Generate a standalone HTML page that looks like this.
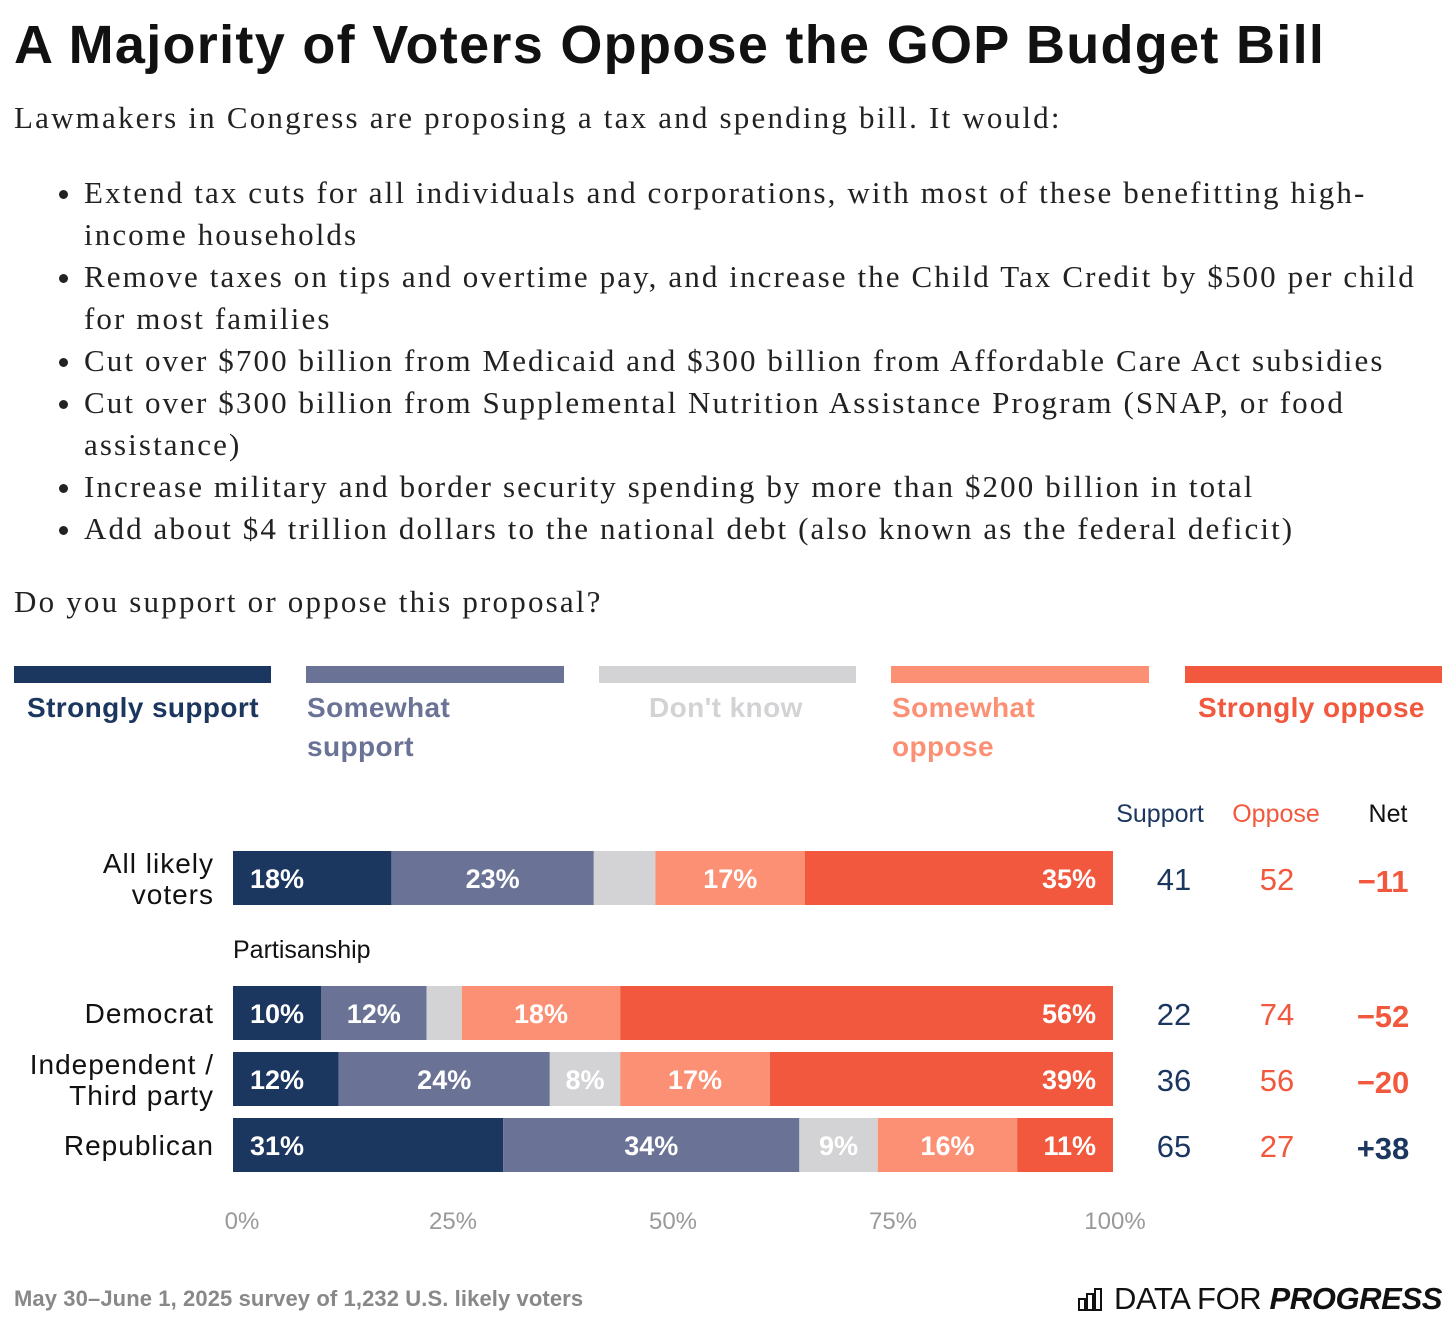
<!DOCTYPE html>
<html><head><meta charset="utf-8">
<style>
body{margin:0;width:1456px;height:1328px;background:#fff;overflow:hidden;position:relative;font-family:"Liberation Sans",sans-serif;}
.abs{position:absolute;}
h1{position:absolute;left:14px;top:14px;margin:0;font-size:54px;font-weight:bold;color:#111;letter-spacing:1.3px;white-space:nowrap;}
.serif{font-family:"Liberation Serif",serif;font-size:31px;color:#222;letter-spacing:2.2px;white-space:nowrap;}
ul{position:absolute;left:44px;top:172px;margin:0;padding-left:40px;width:1400px;font-family:"Liberation Serif",serif;font-size:31px;color:#222;line-height:42px;letter-spacing:2.1px;white-space:nowrap;}
li{margin:0;}
.leg{position:absolute;top:666px;height:17px;}
.legt{position:absolute;top:688px;font-size:28px;font-weight:bold;line-height:39px;letter-spacing:0.4px;}
</style></head><body>
<h1>A Majority of Voters Oppose the GOP Budget Bill</h1>
<div class="abs serif" style="left:14px;top:100px">Lawmakers in Congress are proposing a tax and spending bill. It would:</div>
<ul>
<li>Extend tax cuts for all individuals and corporations, with most of these benefitting high-<br>income households</li>
<li>Remove taxes on tips and overtime pay, and increase the Child Tax Credit by $500 per child<br>for most families</li>
<li>Cut over $700 billion from Medicaid and $300 billion from Affordable Care Act subsidies</li>
<li>Cut over $300 billion from Supplemental Nutrition Assistance Program (SNAP, or food<br>assistance)</li>
<li>Increase military and border security spending by more than $200 billion in total</li>
<li>Add about $4 trillion dollars to the national debt (also known as the federal deficit)</li>
</ul>
<div class="abs serif" style="left:14px;top:584px">Do you support or oppose this proposal?</div>

<div class="leg" style="left:14px;width:257px;background:#1b365f"></div>
<div class="legt" style="left:27px;color:#1b365f">Strongly support</div>
<div class="leg" style="left:306px;width:258px;background:#6a7396"></div>
<div class="legt" style="left:307px;color:#6a7396">Somewhat<br>support</div>
<div class="leg" style="left:599px;width:257px;background:#d3d3d5"></div>
<div class="legt" style="left:649px;color:#d3d3d5">Don't know</div>
<div class="leg" style="left:891px;width:258px;background:#fc9075"></div>
<div class="legt" style="left:892px;color:#fc9075">Somewhat<br>oppose</div>
<div class="leg" style="left:1185px;width:257px;background:#f1583d"></div>
<div class="legt" style="left:1198px;color:#f1583d">Strongly oppose</div>

<svg class="abs" style="left:0;top:780px" width="1456" height="480" id="chart"></svg>

<div class="abs" style="left:14px;top:1286px;font-size:22px;font-weight:bold;color:#888;letter-spacing:0.1px;white-space:nowrap">May 30–June 1, 2025 survey of 1,232 U.S. likely voters</div>
<div class="abs" style="right:14px;top:1281px;font-size:31px;color:#111;white-space:nowrap;letter-spacing:-0.4px">
<svg width="28" height="24" style="vertical-align:-2px"><g fill="none" stroke="#111" stroke-width="2"><rect x="1" y="12" width="6" height="11"/><rect x="9" y="7" width="6" height="16"/><rect x="17" y="2" width="6" height="21"/></g></svg>
DATA FOR <b><i>PROGRESS</i></b></div>

<script>
const categories=["All likely voters","Democrat","Independent / Third party","Republican"];
const stronglySupport=[18,10,12,31];
const somewhatSupport=[23,12,24,34];
const dontKnow=[7,4,8,9];
const somewhatOppose=[17,18,17,16];
const stronglyOppose=[35,56,39,11];
const supportTotals=["41","22","36","65"];
const opposeTotals=["52","74","56","27"];
const netValues=["−11","−52","−20","+38"];
const tickLabels=["0%","25%","50%","75%","100%"];
const tickValues=[0,25,50,75,100];

const svg=document.getElementById('chart');
const NS="http://www.w3.org/2000/svg";
const x0=233,x1=1113;
const xs=v=>x0+(x1-x0)*v/100;
const rowTops=[71,206,272,338];const bh=54;
const colors=["#1b365f","#6a7396","#d3d3d5","#fc9075","#f1583d"];
const series=[stronglySupport,somewhatSupport,dontKnow,somewhatOppose,stronglyOppose];
const names=["strongly-support","somewhat-support","dont-know","somewhat-oppose","strongly-oppose"];
function mk(tag,attrs,text){const e=document.createElementNS(NS,tag);for(const k in attrs)e.setAttribute(k,attrs[k]);if(text!==undefined)e.textContent=text;svg.appendChild(e);return e;}

let t;
t=mk('text',{x:1160,y:42,'text-anchor':'middle','font-size':25,fill:'#1b365f'},'Support');


t=mk('text',{x:1276,y:42,'text-anchor':'middle','font-size':25,fill:'#f1583d'},'Oppose');


t=mk('text',{x:1388,y:42,'text-anchor':'middle','font-size':25,fill:'#111'},'Net');


t=mk('text',{x:233,y:178,'font-size':25,fill:'#111'},'Partisanship');



categories.forEach((c,i)=>{
  const total=series.reduce((s,a)=>s+a[i],0);
  let acc=0;const y=rowTops[i];const cy=y+bh/2+10;
  series.forEach((arr,j)=>{
    const v=arr[i]*100/total;
    const xa=xs(acc),xb=xs(acc+v);
    const r=mk('rect',{x:xa,y:y,width:xb-xa,height:bh,fill:colors[j]});
    
    
    if(arr[i]>=8){
      let tx,anc;
      if(j===0){tx=xa+17;anc='start';}else if(j===4){tx=xb-17;anc='end';}else{tx=(xa+xb)/2;anc='middle';}
      const l=mk('text',{x:tx,y:cy,'text-anchor':anc,'font-size':27,'font-weight':'bold',fill:'#fff'},arr[i]+'%');
      
      
    }
    acc+=v;
  });
  const parts=c==="All likely voters"?["All likely","voters"]:c==="Independent / Third party"?["Independent /","Third party"]:[c];
  parts.forEach((p,k)=>{
    const yy=parts.length===1?cy:y+bh/2+(k===0?-5:26);
    const l=mk('text',{x:214,y:yy,'text-anchor':'end','font-size':28,'letter-spacing':1,fill:'#111'},p);
    
    
  });
  const vy=cy+2;
  let e=mk('text',{x:1174,y:vy,'text-anchor':'middle','font-size':31,fill:'#1b365f'},supportTotals[i]);
  
  
  e=mk('text',{x:1277,y:vy,'text-anchor':'middle','font-size':31,fill:'#f1583d'},opposeTotals[i]);
  
  
  e=mk('text',{x:1383,y:vy+2,'text-anchor':'middle','font-size':31,'font-weight':'bold',fill:netValues[i][0]==='+'?'#1b365f':'#f1583d'},netValues[i]);
  
  
});
tickValues.forEach((v,i)=>{
  const e=mk('text',{x:xs(v)+(i===0?9:i===4?2:0),y:449,'text-anchor':'middle','font-size':24,fill:'#999'},tickLabels[i]);
  
  
});
</script>
</body></html>
